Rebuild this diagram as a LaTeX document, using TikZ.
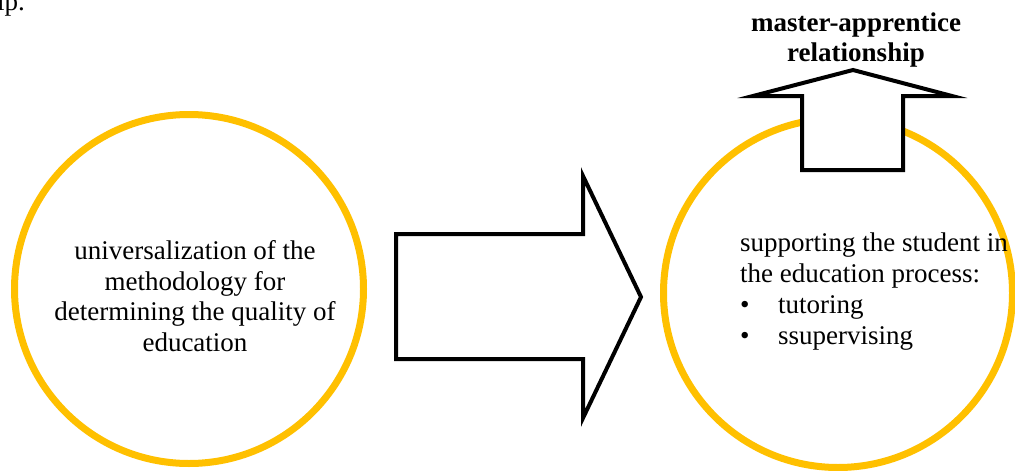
\documentclass[tikz,border=0pt]{standalone}
\usepackage{fontspec}
\setmainfont{Liberation Serif}
\usetikzlibrary{positioning}
\definecolor{gold}{RGB}{255,192,0}
\definecolor{ink}{RGB}{0,0,0}
\tikzset{
  ring/.style={circle,draw=gold,line width=7pt,minimum size=349pt,inner sep=0pt},
  blockarrow/.style={draw=ink,line width=4pt,fill=white,miter limit=20},
  txt/.style={font=\fontsize{27}{30.7}\selectfont,text=ink,inner sep=0pt},
}
\begin{document}
\begin{tikzpicture}[x=1pt,y=-1pt]
  \useasboundingbox (0,0) rectangle (1015,471);
  % cut-off text at the top left
  \node[txt,anchor=base west] (cut) at (-3,10) {ip.};
  % left circle
  \node[ring] (left) at (189,289) {};
  \node[txt,align=center] (lefttext) at (195,296)
    {universalization of the\\methodology for\\determining the quality of\\education};
  % right circle
  \node[ring] (right) at (838,293) {};
  \node[txt,align=left,anchor=north west] (righttext) at (740,233)
    {supporting the student in\\the education process:\\
     \makebox[38pt][l]{\textbullet}tutoring\\
     \makebox[38pt][l]{\textbullet}ssupervising};
  % big arrow between the circles
  \draw[blockarrow] (396,234) -- (583,234) -- (583,176) -- (641,297)
    -- (583,418) -- (583,359) -- (396,359) -- cycle;
  % arrow up out of the right circle
  \draw[blockarrow] (802,170) -- (802,96) -- (753,96) -- (853,70)
    -- (952,96) -- (903,96) -- (903,170) -- cycle;
  \node[txt,font=\fontsize{27}{30.7}\selectfont\bfseries,align=center] (master) at (856,40)
    {master-apprentice\\relationship};
\end{tikzpicture}
\end{document}
